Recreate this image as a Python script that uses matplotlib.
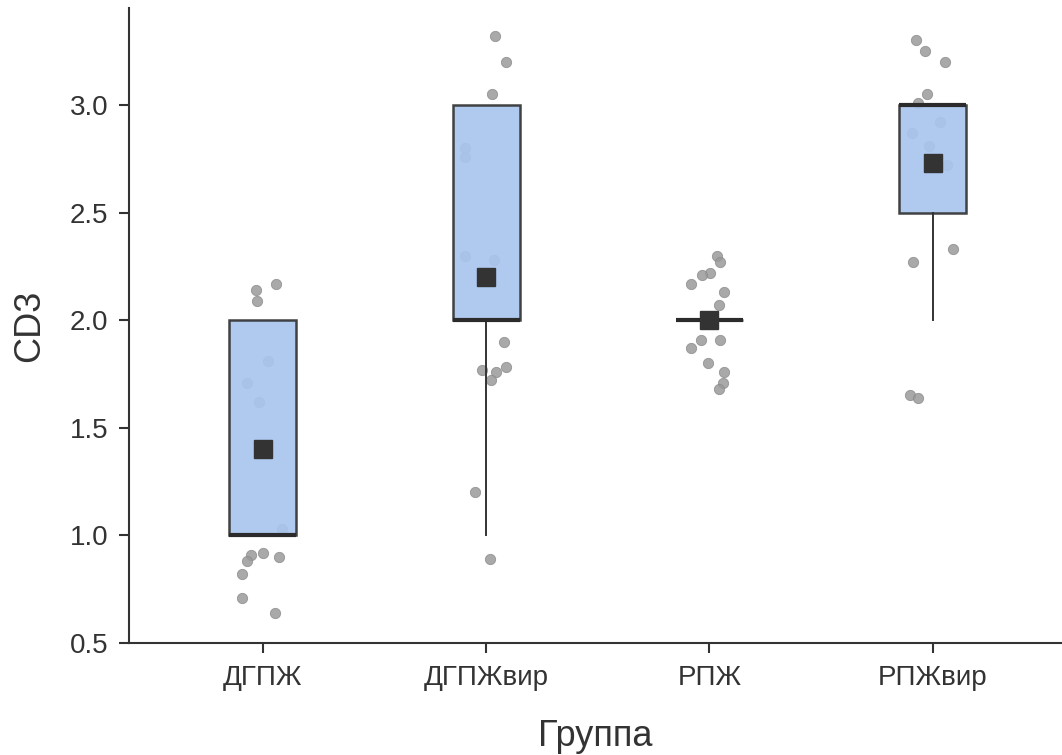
import matplotlib.pyplot as plt

plt.rcParams['font.family'] = ['Liberation Sans', 'DejaVu Sans']

groups = ["ДГПЖ", "ДГПЖвир", "РПЖ", "РПЖвир"]

# box statistics
q1 = [1.0, 2.0, 2.0, 2.5]
medians = [1.0, 2.0, 2.0, 3.0]
q3 = [2.0, 3.0, 2.0, 3.0]
whisker_lo = [1.0, 1.0, 2.0, 2.0]
whisker_hi = [2.0, 3.0, 2.0, 3.0]
means = [1.40, 2.20, 2.00, 2.73]

# jittered points as drawn (value, horizontal offset from group centre)
pts_dgpzh = [2.17, 2.14, 2.09, 1.81, 1.71, 1.62, 1.03, 0.91, 0.88, 0.92, 0.90, 0.82, 0.71, 0.64]
off_dgpzh = [0.058, -0.031, -0.026, 0.024, -0.073, -0.017, 0.084, -0.055, -0.070, 0.0, 0.072, -0.096, -0.096, 0.052]

pts_dgpzh_vir = [3.32, 3.20, 3.05, 2.80, 2.76, 2.30, 2.28, 1.90, 1.77, 1.76, 1.78, 1.72, 1.20, 0.89]
off_dgpzh_vir = [0.039, 0.090, 0.026, -0.095, -0.095, -0.095, 0.036, 0.081, -0.020, 0.045, 0.090, 0.023, -0.050, 0.018]

pts_rpzh = [2.30, 2.27, 2.22, 2.21, 2.17, 2.13, 2.07, 1.91, 1.91, 1.87, 1.80, 1.76, 1.71, 1.68]
off_rpzh = [0.036, 0.047, 0.001, -0.033, -0.081, 0.065, 0.042, -0.037, 0.047, -0.084, -0.004, 0.065, 0.062, 0.043]

pts_rpzh_vir = [3.30, 3.25, 3.20, 3.05, 3.01, 2.92, 2.87, 2.81, 2.72, 2.33, 2.27, 1.65, 1.64]
off_rpzh_vir = [-0.075, -0.032, 0.054, -0.023, -0.063, 0.034, -0.090, -0.017, 0.065, 0.090, -0.087, -0.101, -0.063]

points = [pts_dgpzh, pts_dgpzh_vir, pts_rpzh, pts_rpzh_vir]
offsets = [off_dgpzh, off_dgpzh_vir, off_rpzh, off_rpzh_vir]

text_col = "#333333"

fig = plt.figure(figsize=(10.62, 7.55), dpi=100)
ax = fig.add_axes([0.1215, 0.1483, 0.8785, 0.8411])

# points
for i, (vals, offs) in enumerate(zip(points, offsets)):
    ax.scatter([i + o for o in offs], vals, s=55, color="#9a9a9a", alpha=0.85,
               edgecolors="#8a8a8a", linewidths=0.6, zorder=1)

# boxes
stats = []
for i in range(len(groups)):
    stats.append({"q1": q1[i], "med": medians[i], "q3": q3[i],
                  "whislo": whisker_lo[i], "whishi": whisker_hi[i], "fliers": []})

ax.bxp(stats, positions=range(len(groups)), widths=0.30, patch_artist=True,
       showcaps=False, showfliers=False,
       boxprops=dict(facecolor="#A9C5EE", edgecolor="#333333", linewidth=1.8, alpha=0.92),
       medianprops=dict(color="#2b2b2b", linewidth=3.0, solid_capstyle="butt"),
       whiskerprops=dict(color="#333333", linewidth=1.4))

# means
ax.plot(range(len(groups)), means, linestyle="none", marker="s", markersize=13,
        color="#333333", zorder=5)

ax.set_xlim(-0.60, 3.58)
ax.set_ylim(0.5, 3.45)
ax.set_yticks([0.5, 1.0, 1.5, 2.0, 2.5, 3.0])
ax.set_yticklabels(["0.5", "1.0", "1.5", "2.0", "2.5", "3.0"])
ax.set_xticks(range(len(groups)))
ax.set_xticklabels(groups)

for side in ["top", "right"]:
    ax.spines[side].set_visible(False)
for side in ["left", "bottom"]:
    ax.spines[side].set_color("#333333")
    ax.spines[side].set_linewidth(1.5)

ax.tick_params(axis="both", colors="#333333", labelcolor=text_col, labelsize=20,
               length=7, width=1.5)
ax.tick_params(axis="y", pad=8)
ax.tick_params(axis="x", pad=9)

ax.set_xlabel("Группа", fontsize=26, color=text_col, labelpad=20)
ax.set_ylabel("CD3", fontsize=26, color=text_col, labelpad=16)

fig.savefig("out.png", dpi=100)
